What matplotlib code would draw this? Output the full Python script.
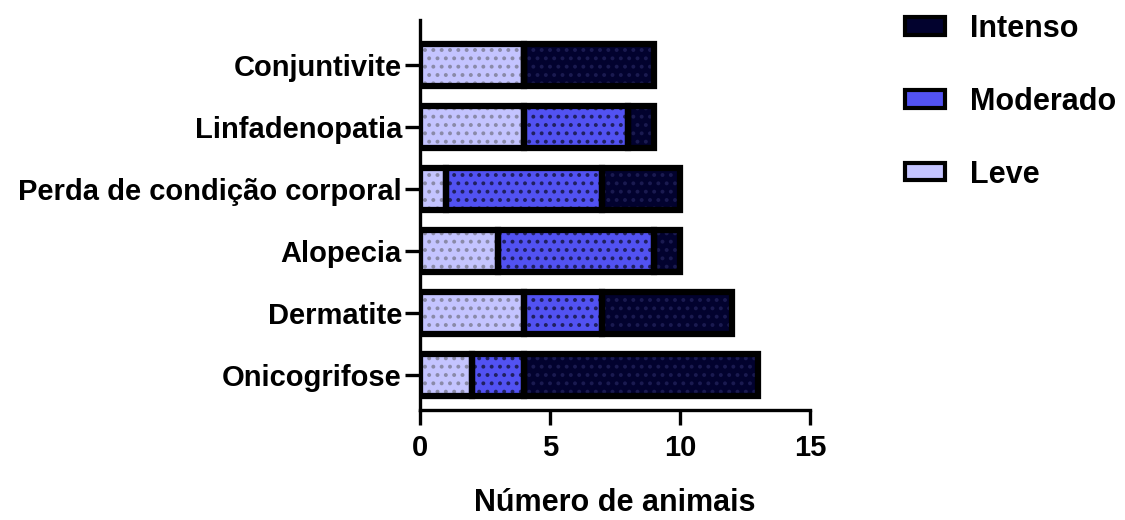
import matplotlib
matplotlib.use("Agg")
import matplotlib.pyplot as plt
from matplotlib.patches import Patch
import numpy as np

plt.rcParams['font.family'] = ['Liberation Sans', 'DejaVu Sans']
plt.rcParams['font.weight'] = 'bold'
plt.rcParams['hatch.linewidth'] = 1.6

categories = ["Onicogrifose", "Dermatite", "Alopecia", "Perda de condição corporal",
              "Linfadenopatia", "Conjuntivite"]
leve = [2, 4, 3, 1, 4, 4]
moderado = [2, 3, 6, 6, 4, 0]
intenso = [9, 5, 1, 3, 1, 5]
series_names = ["Leve", "Moderado", "Intenso"]
colors = ["#c4c4ff", "#5252f2", "#02022e"]
hatch_colors = ["#8a8aa8", "#202060", "#1a1a50"]

fig = plt.figure(figsize=(11.25, 5.2), dpi=100)
ax = fig.add_axes([420/1125, 1-410/520, 390/1125, 390/520])

y = np.arange(len(categories))
h = 0.68
left = np.zeros(len(categories))
for vals, c, hc in zip([leve, moderado, intenso], colors, hatch_colors):
    vals = np.array(vals, dtype=float)
    ax.barh(y, vals, left=left, height=h, color=c, edgecolor=hc, hatch='..', linewidth=0, zorder=2)
    ax.barh(y, vals, left=left, height=h, fill=False, edgecolor='black', linewidth=4.5, zorder=3)
    left += vals

ax.set_xlim(0, 15)
ax.set_ylim(-0.57, 5.73)
ax.set_xticks([0, 5, 10, 15])
ax.set_yticks(y)
ax.set_yticklabels(categories)
for s in ['top', 'right']:
    ax.spines[s].set_visible(False)
for s in ['left', 'bottom']:
    ax.spines[s].set_linewidth(2.4)
ax.tick_params(axis='both', width=2.4, length=11, labelsize=21)
ax.tick_params(axis='y', pad=2)
ax.tick_params(axis='x', pad=6)
ax.set_xlabel("Número de animais", fontsize=22, fontweight='bold', labelpad=19)

handles = [Patch(facecolor=colors[i], edgecolor='black', linewidth=3) for i in [2, 1, 0]]
labels = [series_names[i] for i in [2, 1, 0]]
fig.legend(handles, labels, loc='upper left', bbox_to_anchor=(905/1125, 1-14/520),
           frameon=False, fontsize=22, labelspacing=1.4, handlelength=1.3,
           handleheight=0.5, handletextpad=0.82, borderpad=0, borderaxespad=0)

fig.savefig("out.png", dpi=100)
